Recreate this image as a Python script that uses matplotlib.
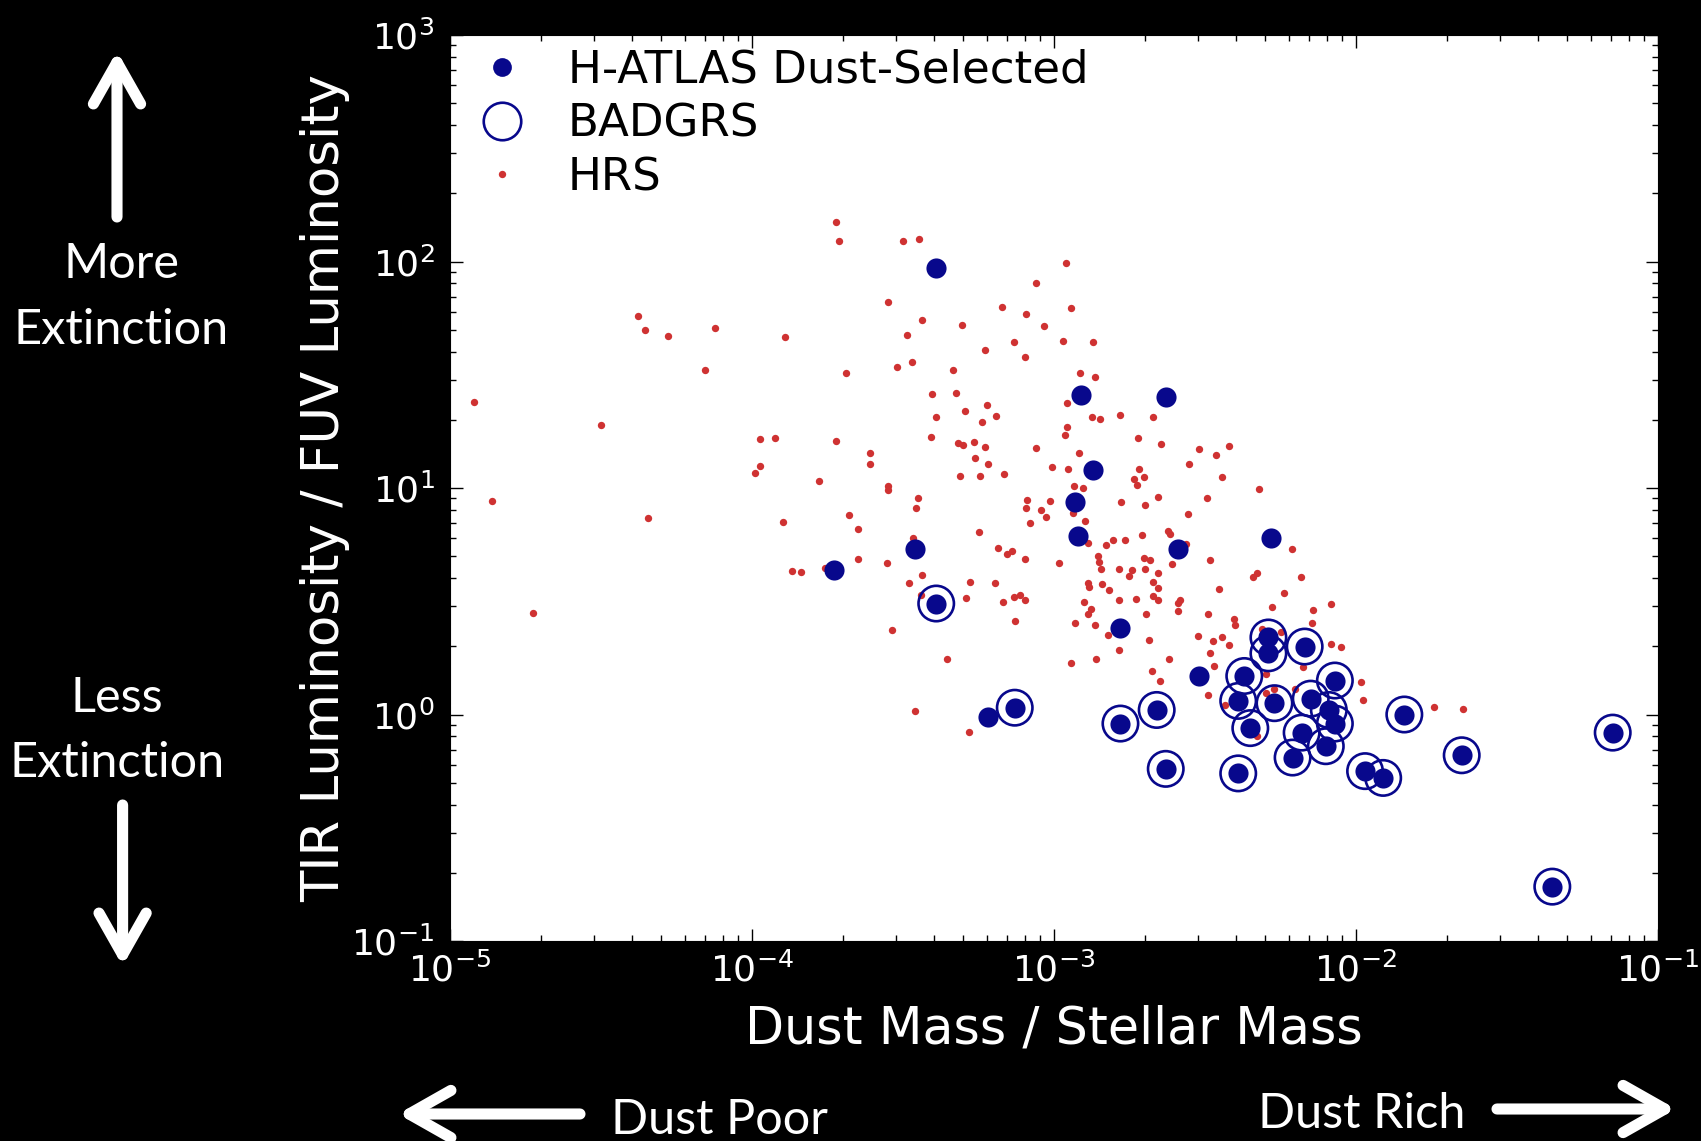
import numpy as np
import matplotlib
matplotlib.use("Agg")
import matplotlib.pyplot as plt
from matplotlib.lines import Line2D
from matplotlib.patches import FancyArrowPatch

# all values are log10: x = dust mass / stellar mass, y = L_TIR / L_FUV
hrs_log_md = [
    -4.377, -4.353, -4.279, -4.122, -3.890, -4.155, -4.921, -4.500, -3.974, -3.924,
    -3.974, -3.990, -4.861, -4.345, -3.896, -3.867, -3.837, -4.724, -3.723, -3.712,
    -3.501, -3.447, -2.961, -3.060, -3.551, -3.172, -2.944, -3.093, -3.437, -3.304,
    -3.033, -3.486, -3.133, -2.969, -2.870, -3.229, -3.095, -3.688, -3.521, -3.470,
    -3.334, -2.914, -2.864, -3.405, -3.325, -3.221, -3.296, -3.193, -3.238, -3.392,
    -2.957, -2.873, -2.849, -2.780, -2.673, -2.956, -2.963, -3.406, -3.723, -3.609,
    -3.609, -3.317, -3.302, -3.266, -3.228, -3.060, -2.917, -2.722, -2.646, -3.261,
    -3.220, -3.007, -2.954, -2.720, -2.736, -2.701, -3.311, -3.246, -3.166, -3.778,
    -3.550, -3.550, -3.451, -3.458, -3.680, -3.649, -3.468, -3.649, -3.554, -3.758,
    -3.436, -3.480, -3.440, -3.535, -3.354, -3.461, -3.281, -3.249, -3.279, -3.292,
    -3.185, -3.157, -3.139, -3.097, -3.195, -3.170, -3.133, -3.114, -3.095, -3.129,
    -3.090, -3.093, -3.044, -3.012, -3.026, -3.078, -2.983, -2.933, -2.904, -2.937,
    -2.897, -2.888, -2.855, -2.850, -2.843, -2.828, -2.804, -2.765, -2.709, -2.779,
    -2.700, -2.724, -2.657, -2.888, -2.885, -2.840, -2.818, -2.785, -2.752, -2.741,
    -2.699, -2.702, -2.682, -2.671, -2.657, -2.657, -2.673, -2.729, -2.654, -2.784,
    -2.900, -2.877, -2.889, -2.929, -2.863, -2.822, -2.696, -2.786, -2.686, -2.943,
    -2.860, -2.675, -2.649, -2.443, -2.320, -2.492, -2.557, -2.623, -2.616, -2.563,
    -2.213, -2.484, -2.609, -2.340, -2.327, -2.182, -2.454, -2.238, -2.582, -2.588,
    -2.589, -2.490, -2.277, -2.082, -2.142, -2.145, -2.404, -2.400, -2.523, -2.474,
    -2.445, -2.420, -2.482, -2.469, -2.619, -2.489, -2.310, -2.248, -2.084, -2.049,
    -2.175, -1.984, -1.976, -1.743, -1.645, -2.297, -2.272, -2.299, -2.202, -2.434,
    -2.329, -2.521, -2.465, -2.420, -2.552,
]
hrs_log_irx = [
    1.759, 1.699, 1.672, 1.708, 1.667, 1.522, 1.378, 1.278, 1.218, 1.221,
    1.097, 1.066, 0.941, 0.869, 0.850, 0.635, 0.630, 0.447, 2.174, 2.091,
    2.089, 2.098, 1.993, 1.905, 1.823, 1.798, 1.795, 1.768, 1.743, 1.720,
    1.714, 1.675, 1.643, 1.648, 1.643, 1.608, 1.578, 1.509, 1.533, 1.558,
    1.522, 1.509, 1.491, 1.415, 1.418, 1.366, 1.341, 1.317, 1.293, 1.313,
    1.377, 1.313, 1.303, 1.322, 1.313, 1.271, 1.235, 1.225, 1.208, 1.156,
    1.107, 1.197, 1.189, 1.202, 1.181, 1.175, 1.156, 1.219, 1.194, 1.132,
    1.107, 1.093, 1.084, 1.085, 1.040, 1.050, 1.051, 1.052, 1.062, 1.031,
    1.009, 0.993, 0.955, 0.913, 0.882, 0.819, 0.778, 0.688, 0.669, 0.648,
    0.615, 0.581, 0.528, 0.373, 0.245, 0.014, -0.076, 0.806, 0.584, 0.514,
    0.736, 0.707, 0.722, 0.688, 0.581, 0.498, 0.519, 0.526, 0.507, 0.411,
    0.946, 0.910, 0.903, 0.941, 0.872, 0.845, 0.669, 1.009, 0.999, 0.888,
    0.854, 0.756, 0.701, 0.675, 0.642, 0.748, 0.770, 0.770, 0.794, 0.938,
    0.924, 1.015, 0.962, 0.579, 0.562, 0.576, 0.550, 0.641, 0.611, 0.638,
    0.641, 0.690, 0.682, 0.586, 0.623, 0.557, 0.523, 0.509, 0.506, 0.506,
    0.498, 0.464, 0.444, 0.404, 0.394, 0.350, 0.442, 0.286, 0.328, 0.229,
    0.244, 0.193, 0.149, 1.047, 0.996, 0.957, 0.885, 0.810, 0.796, 0.753,
    0.731, 0.682, 0.666, 0.608, 0.626, 0.607, 0.553, 0.538, 0.504, 0.491,
    0.456, 0.444, 0.476, 0.488, 0.460, 0.404, 0.423, 0.394, 0.345, 0.325,
    0.342, 0.306, 0.272, 0.216, 0.246, 0.087, 0.379, 0.363, 0.313, 0.299,
    0.210, 0.142, 0.064, 0.032, 0.026, 0.177, 0.113, 0.096, 0.113, 0.042,
    -0.094, 1.174, 1.147, 1.185, 1.105,
]

# H-ATLAS sources that are not in BADGRS
hatlas_log_md = [-3.39, -2.91, -2.63, -2.87, -2.93, -2.92, -2.28, -2.59, -3.46, -3.73,
                 -2.78, -2.52, -3.22]
hatlas_log_irx = [1.97, 1.41, 1.40, 1.08, 0.94, 0.79, 0.78, 0.73, 0.73, 0.64,
                  0.38, 0.17, -0.01]

# H-ATLAS sources that are also BADGRS
badgrs_log_md = [-3.39, -3.13, -2.78, -2.66, -2.63, -2.39, -2.39, -2.37, -2.35, -2.29,
                 -2.29, -2.27, -2.17, -2.07, -2.15, -2.09, -2.07, -2.18, -2.21, -2.10,
                 -1.97, -1.91, -1.84, -1.65, -1.15, -1.35]
badgrs_log_irx = [0.49, 0.03, -0.04, 0.02, -0.24, -0.26, 0.06, 0.17, -0.06, 0.34,
                  0.27, 0.05, 0.30, 0.15, 0.07, 0.02, -0.04, -0.08, -0.19, -0.14,
                  -0.25, -0.28, 0.00, -0.18, -0.08, -0.76]

labels = ["H-ATLAS Dust-Selected", "BADGRS", "HRS"]

navy = "#08088c"
red = "#cf3232"

W, H = 1701, 1141
fig = plt.figure(figsize=(W / 100, H / 100), dpi=100, facecolor="black")
ax = fig.add_axes([450 / W, 1 - 941 / H, 1208 / W, 906 / H])
ax.set_facecolor("white")

hx = 10 ** np.array(hrs_log_md)
hy = 10 ** np.array(hrs_log_irx)
ax.scatter(hx, hy, s=28, color=red, linewidths=0, zorder=2)

fx = 10 ** np.concatenate([hatlas_log_md, badgrs_log_md])
fy = 10 ** np.concatenate([hatlas_log_irx, badgrs_log_irx])
ax.scatter(fx, fy, s=210, color=navy, linewidths=0, zorder=3)

bx = 10 ** np.array(badgrs_log_md)
by = 10 ** np.array(badgrs_log_irx)
ax.scatter(bx, by, s=650, facecolors="none", edgecolors=navy, linewidths=1.9, zorder=4)

ax.set_xscale("log")
ax.set_yscale("log")
ax.set_xlim(1e-5, 1e-1)
ax.set_ylim(1e-1, 1e3)

ax.tick_params(which="both", direction="in", top=True, right=True, colors="black",
               labelcolor="white")
ax.tick_params(which="major", length=9, width=1, labelsize=26)
ax.tick_params(which="minor", length=4.5, width=1)
ax.tick_params(axis="x", which="major", pad=8)
ax.tick_params(axis="y", which="major", pad=11)

ax.set_xlabel("Dust Mass / Stellar Mass", color="white", fontsize=36.5)
ax.set_ylabel("TIR Luminosity / FUV Luminosity", color="white", fontsize=37)
ax.xaxis.set_label_coords(0.5, -0.07)
ax.yaxis.set_label_coords(-0.083, 0.5)

handles = [
    Line2D([], [], ls="none", marker="o", markersize=13.5, color=navy, mew=0),
    Line2D([], [], ls="none", marker="o", markersize=27, mfc="none", mec=navy, mew=1.9),
    Line2D([], [], ls="none", marker="o", markersize=5.3, color=red, mew=0),
]
ax.legend(handles, labels, loc="upper left", bbox_to_anchor=(0.0245, 0.985),
          frameon=False, fontsize=32.5, handlelength=1.0, handletextpad=0.95,
          borderaxespad=0, borderpad=0, labelspacing=0.24)

# annotations around the axes
note = dict(color="white", fontsize=35, family=["Lato", "DejaVu Sans"])
fig.text(121, 863, "More", ha="center", va="baseline", transform=None, **note)
fig.text(121, 797, "Extinction", ha="center", va="baseline", transform=None, **note)
fig.text(117, 429, "Less", ha="center", va="baseline", transform=None, **note)
fig.text(117, 364, "Extinction", ha="center", va="baseline", transform=None, **note)
fig.text(611, 7, "Dust Poor", ha="left", va="baseline", transform=None, **note)
fig.text(1258, 13, "Dust Rich", ha="left", va="baseline", transform=None, **note)

arrows = [((117, 924), (117, 1090)),
          ((122.6, 336), (122.6, 175)),
          ((580, 27), (398, 27)),
          ((1497, 32), (1676, 32))]
for tail, tip in arrows:
    fig.add_artist(FancyArrowPatch(
        tail, tip, transform=None,
        arrowstyle="->,head_length=30,head_width=17",
        mutation_scale=1, lw=8, color="white", shrinkA=0, shrinkB=0,
        capstyle="round", joinstyle="round"))

fig.savefig("out.png", dpi=100, facecolor="black")
